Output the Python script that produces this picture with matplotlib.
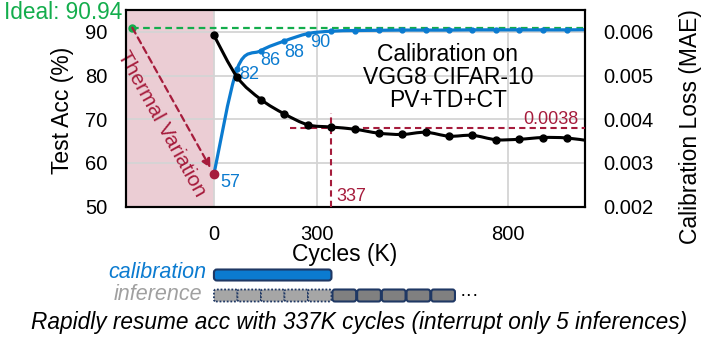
import numpy as np
import matplotlib
matplotlib.use("Agg")
from matplotlib import pyplot as plt
from matplotlib.path import Path
from matplotlib.patches import PathPatch, FancyBboxPatch

plt.rcParams['font.family'] = ['Liberation Sans', 'DejaVu Sans']

# ---- data ----
cycles = [0, 67, 135, 202, 270, 337, 404, 472, 539, 607, 674, 741, 809, 876, 944, 1011, 1078]
test_acc = [57.4, 81.6, 85.7, 87.9, 89.6, 90.15, 90.3, 90.35, 90.4, 90.4, 90.4, 90.45,
            90.45, 90.45, 90.45, 90.45, 90.5]
calib_loss = [0.00592, 0.00496, 0.00445, 0.00412, 0.00387, 0.00382, 0.00377, 0.00368,
              0.00365, 0.00370, 0.00361, 0.00363, 0.00353, 0.00354, 0.00358, 0.00357, 0.00350]
acc_labels = [57, 82, 86, 88, 90]
ideal_acc = 90.94
ideal_start = -234
resume_cycles = 337
resume_loss = 0.0038
xtick_pos = [0, 295, 844]
xtick_labels = ['0', '300', '800']
n_interrupted = 5
n_resumed = 5

BLUE = '#0b7bd0'
RED = '#a61c3c'
GREEN = '#13ad4c'
NAVY = '#1f3864'


def smooth_path(xs, ys):
    # Excel-like smoothed line (Catmull-Rom as cubic Bezier)
    pts = np.column_stack([xs, ys]).astype(float)
    n = len(pts)
    verts = [pts[0]]
    codes = [Path.MOVETO]
    for k in range(n - 1):
        p0 = pts[k - 1] if k > 0 else pts[k]
        p1 = pts[k]
        p2 = pts[k + 1]
        p3 = pts[k + 2] if k + 2 < n else pts[k + 1]
        verts += [p1 + (p2 - p0) / 6, p2 - (p3 - p1) / 6, p2]
        codes += [Path.CURVE4] * 3
    return Path(verts, codes)


fig = plt.figure(figsize=(7.06, 3.37), dpi=100)
ax = fig.add_axes([125.7 / 706, 1 - 206.5 / 337, 459.3 / 706, 196.5 / 337])
ax2 = ax.twinx()

ax.set_xlim(-253, 1064)
ax.set_ylim(50, 95)
ax2.set_ylim(0.002, 0.0065)

# shaded thermal variation region
ax.axvspan(-253, 0, color=RED, alpha=0.22, lw=0, zorder=0)

ax.set_yticks([50, 60, 70, 80, 90])
ax.set_xticks(xtick_pos)
ax.set_xticklabels(xtick_labels)
ax2.set_yticks([0.002, 0.003, 0.004, 0.005, 0.006])
ax2.set_yticklabels(['0.002', '0.003', '0.004', '0.005', '0.006'])
ax.grid(True, color='#d4d4d4', lw=1.3, zorder=0.5)
ax.set_axisbelow(True)
ax.tick_params(axis='both', length=0, labelsize=14.5, pad=13)
ax2.tick_params(axis='y', length=0, labelsize=14.5, pad=13)
for a in (ax, ax2):
    for s in a.spines.values():
        s.set_linewidth(1.5)
        s.set_color('black')

ax.set_ylabel('Test Acc (%)', fontsize=16.5)
ax.yaxis.set_label_coords(-0.112, 0.49)
ax2.set_ylabel('Calibration Loss (MAE)', fontsize=16.5)
ax2.yaxis.set_label_coords(1.205, 0.405)
ax.set_xlabel('Cycles (K)', fontsize=16.5)
ax.xaxis.set_label_coords(0.4775, -0.185)

# ideal line
ax.plot([ideal_start, 1064], [ideal_acc, ideal_acc], ls=(0, (3, 2)), color=GREEN, lw=1.6, zorder=3)
ax.plot([ideal_start], [ideal_acc], 'o', color=GREEN, ms=5, zorder=4, clip_on=False)
ax.annotate('Ideal: %.2f' % ideal_acc, xy=(ideal_start, ideal_acc), xytext=(-10, 15),
            textcoords='offset pixels', ha='right', va='center', color=GREEN,
            fontsize=16.3, annotation_clip=False)

# thermal variation arrow
ax.annotate('', xy=(cycles[0], test_acc[0]), xytext=(ideal_start, ideal_acc),
            arrowprops=dict(arrowstyle='-|>', linestyle=(0, (3, 2)), color=RED, lw=1.6,
                            mutation_scale=13, shrinkA=0, shrinkB=5), zorder=4)
ax.text(-150, 68.9, 'Thermal Variation', rotation=-61, ha='center', va='center',
        color=RED, fontsize=15, rotation_mode='anchor')

# accuracy curve
ax.add_patch(PathPatch(smooth_path(cycles, test_acc), fill=False, ec=BLUE, lw=2.3, zorder=5))
ax.plot(cycles, test_acc, 'o', color=BLUE, ms=3.5, zorder=5)
ax.plot([cycles[0]], [test_acc[0]], 'o', color=RED, ms=6, zorder=6)
offsets = [(16, -8), (12, -6), (9, -10), (10, -11), (12, -9)]
for i, lab in enumerate(acc_labels):
    ax.annotate(str(lab), xy=(cycles[i], test_acc[i]), xytext=offsets[i],
                textcoords='offset pixels', ha='center', va='center', color=BLUE, fontsize=13)

# loss curve
ax2.add_patch(PathPatch(smooth_path(cycles, calib_loss), fill=False, ec='black', lw=2.2, zorder=5))
ax2.plot(cycles, calib_loss, 'o', color='black', ms=5, zorder=5)

# resume crosshair
ax2.plot([218, 1064], [resume_loss, resume_loss], ls=(0, (3, 2)), color=RED, lw=1.5, zorder=4)
ax2.plot([resume_cycles, resume_cycles], [0.002, 0.00413], ls=(0, (3, 2)), color=RED, lw=1.5, zorder=4)
ax2.text(1044, resume_loss, '%.4f' % resume_loss, ha='right', va='bottom', color=RED, fontsize=13)
ax.text(350, 50.4, str(resume_cycles), ha='left', va='bottom', color=RED, fontsize=13)

ax.text(0.7017, 0.655, 'Calibration on\nVGG8 CIFAR-10\nPV+TD+CT', transform=ax.transAxes,
        ha='center', va='center', fontsize=16.5, linespacing=1.0, zorder=7)

# ---- bottom schematic (figure pixel coords, x aligned to cycles) ----
fig.canvas.draw()
bx = fig.add_axes([0, 0, 1, 1], zorder=-1)
bx.set_xlim(0, 706)
bx.set_ylim(0, 337)
bx.axis('off')


def cyc2px(c):
    return ax.transData.transform((c, 60))[0]


x0 = cyc2px(0)
x1 = cyc2px(resume_cycles)
bx.add_patch(FancyBboxPatch((x0, 56.5), x1 - x0, 11, boxstyle='round,pad=0,rounding_size=3',
                            fc=BLUE, ec=NAVY, lw=1.5))
bx.text(206, 64, 'calibration', ha='right', va='center', color=BLUE, fontsize=15.5, style='italic')

w = (x1 - x0) / n_interrupted
for k in range(n_interrupted):
    bx.add_patch(FancyBboxPatch((x0 + k * w, 35.5), w, 12, boxstyle='round,pad=0,rounding_size=2',
                                fc='#a6a6a6', ec=NAVY, lw=1.3, ls=(0, (1, 1))))
w2 = 24.7
for k in range(n_resumed):
    bx.add_patch(FancyBboxPatch((x1 + 1 + k * w2, 35.5), w2 - 1, 12,
                                boxstyle='round,pad=0,rounding_size=2.5',
                                fc='#808080', ec=NAVY, lw=1.5))
bx.text(x1 + 1 + n_resumed * w2 + 4, 42, '···', ha='left', va='center', fontsize=14)
bx.text(202, 42, 'inference', ha='right', va='center', color='#a0a0a0', fontsize=15.5, style='italic')
bx.text(359, 15, 'Rapidly resume acc with %dK cycles (interrupt only %d inferences)'
        % (resume_cycles, n_interrupted), ha='center', va='center', fontsize=16.3, style='italic')

fig.savefig('out.png', dpi=100)
